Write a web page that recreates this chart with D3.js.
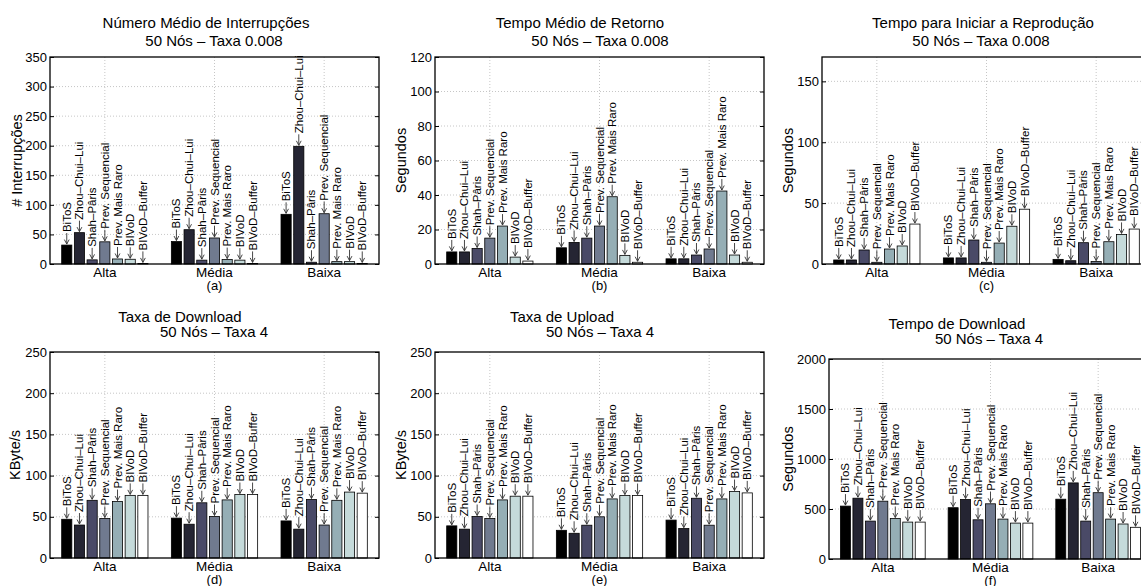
<!DOCTYPE html>
<html><head><meta charset="utf-8">
<script src="https://cdn.jsdelivr.net/npm/d3@7"></script>
<style>
html,body{margin:0;padding:0;background:#fff;}
svg{display:block;font-family:"Liberation Sans",Arial,Helvetica,sans-serif;}
</style></head>
<body>
<svg id="chart" width="1141" height="586"></svg>
<script>
// ---------- data ----------
const categories = ["Alta", "Média", "Baixa"];
const series = ["BiToS", "Zhou–Chui–Lui", "Shah–Pâris", "Prev. Sequencial", "Prev. Mais Raro", "BIVoD", "BIVoD–Buffer"];
const seriesColors = ["#000000", "#252533", "#4a4a67", "#707a8f", "#95aeb5", "#c5dada", "#ffffff"];

// values per category (Alta, Média, Baixa), series order as above
const interrupcoes = [
  [32, 53, 7, 37.5, 8.5, 8, 1],
  [38, 58, 6.5, 44, 7.5, 6.5, 1],
  [84, 199, 3, 85, 4, 4, 1]
];
const tempoRetorno = [
  [7, 7, 9, 15, 22, 4, 1.7],
  [9.4, 12.5, 15, 22, 39, 5, 1],
  [3, 3, 5.2, 8.7, 42.3, 5.2, 1]
];
const tempoInicio = [
  [3.3, 3.3, 11.5, 1.4, 12.3, 14.8, 32.8],
  [5, 5, 19.7, 1.4, 17.2, 31, 45],
  [3.8, 2.7, 17.5, 2, 18.3, 24.3, 28.7]
];
const taxaDownload = [
  [47, 40, 70, 48, 68.5, 76, 76],
  [48.4, 41, 67, 50.4, 70.5, 77, 77],
  [45, 35, 71, 40, 70, 80, 78.7]
];
const taxaUpload = [
  [39, 35, 50.4, 48, 70.5, 75, 75],
  [33.6, 30, 39.8, 50, 71.7, 75.8, 75.8],
  [46, 35.7, 72.5, 39.8, 71.7, 80.7, 79]
];
const tempoDownload = [
  [529, 608, 379, 578, 405, 369, 369],
  [513, 595, 392, 552, 399, 359, 359],
  [598, 761, 379, 663, 399, 350, 317]
];

const ticksA = [0, 50, 100, 150, 200, 250, 300, 350];
const ticksB = [0, 20, 40, 60, 80, 100, 120];
const ticksC = [0, 50, 100, 150];
const ticksD = [0, 50, 100, 150, 200, 250];
const ticksE = [0, 50, 100, 150, 200, 250];
const ticksF = [0, 500, 1000, 1500, 2000];

const titlesA = ["Número Médio de Interrupções", "50 Nós – Taxa 0.008"];
const titlesB = ["Tempo Médio de Retorno", "50 Nós – Taxa 0.008"];
const titlesC = ["Tempo para Iniciar a Reprodução", "50 Nós – Taxa 0.008"];
const titlesD = ["Taxa de Download", "50 Nós – Taxa 4"];
const titlesE = ["Taxa de Upload", "50 Nós – Taxa 4"];
const titlesF = ["Tempo de Download", "50 Nós – Taxa 4"];

// ---------- layout ----------
const panels = [
  {values: interrupcoes, ticks: ticksA, max: 350, ylabel: "# Interrupções", titles: titlesA, tag: "(a)",
   left: 50, right: 379, top: 57, bottom: 264, ylx: 17, t1: [206, 28], t2: [214, 46]},
  {values: tempoRetorno, ticks: ticksB, max: 120, ylabel: "Segundos", titles: titlesB, tag: "(b)",
   left: 435, right: 764, top: 57, bottom: 264, ylx: 401, t1: [580, 28], t2: [600, 46]},
  {values: tempoInicio, ticks: ticksC, max: 170, ylabel: "Segundos", titles: titlesC, tag: "(c)",
   left: 822, right: 1151, top: 57, bottom: 264, ylx: 788, t1: [983, 28], t2: [981, 46]},
  {values: taxaDownload, ticks: ticksD, max: 250, ylabel: "KByte/s", titles: titlesD, tag: "(d)",
   left: 50, right: 379, top: 352, bottom: 558, ylx: 15, t1: [180, 322], t2: [214, 337]},
  {values: taxaUpload, ticks: ticksE, max: 250, ylabel: "KByte/s", titles: titlesE, tag: "(e)",
   left: 435, right: 764, top: 352, bottom: 558, ylx: 401, t1: [562, 322], t2: [600, 337]},
  {values: tempoDownload, ticks: ticksF, max: 2000, ylabel: "Segundos", titles: titlesF, tag: "(f)",
   left: 829, right: 1152, top: 359, bottom: 559, ylx: 788, t1: [957, 329], t2: [989, 344]}
];

const svg = d3.select("#chart");

panels.forEach(p => {
  const g = svg.append("g");
  const y = d3.scaleLinear().domain([0, p.max]).range([p.bottom, p.top]);
  const x0 = d3.scaleBand().domain(categories).range([p.left, p.right]).padding(0);
  const groupW = x0.bandwidth() * 0.81;
  const x1 = d3.scaleBand().domain(series).range([-groupW / 2, groupW / 2]).paddingInner(0.2).paddingOuter(0.1);
  const cx = c => x0(c) + x0.bandwidth() / 2;

  // grid
  g.append("g").selectAll("line").data(p.ticks.filter(t => t > 0 && t < p.max)).join("line")
    .attr("x1", p.left).attr("x2", p.right).attr("y1", d => y(d)).attr("y2", d => y(d))
    .attr("stroke", "#b8b8b8").attr("stroke-width", 0.8).attr("stroke-dasharray", "1,2");
  g.append("g").selectAll("line").data(categories).join("line")
    .attr("x1", d => cx(d)).attr("x2", d => cx(d)).attr("y1", p.top).attr("y2", p.bottom)
    .attr("stroke", "#b8b8b8").attr("stroke-width", 0.8).attr("stroke-dasharray", "1,2");

  // bars
  const groups = g.append("g").selectAll("g").data(categories).join("g")
    .attr("transform", d => `translate(${cx(d)},0)`);
  const items = (c, i) => p.values[i].map((v, j) => ({s: series[j], v, j}));
  groups.selectAll("rect").data(items).join("rect")
    .attr("x", d => x1(d.s)).attr("width", x1.bandwidth())
    .attr("y", d => y(d.v)).attr("height", d => y(0) - y(d.v))
    .attr("fill", d => seriesColors[d.j]).attr("stroke", "#000").attr("stroke-width", 0.8);

  // arrows
  const bx = d => x1(d.s) + x1.bandwidth() / 2;
  groups.selectAll("path").data(items).join("path")
    .attr("d", d => {
      const xx = bx(d), yy = y(d.v) - 1;
      return `M${xx},${yy - 11}L${xx},${yy}M${xx - 2.4},${yy - 4.5}L${xx},${yy}L${xx + 2.4},${yy - 4.5}`;
    })
    .attr("fill", "none").attr("stroke", "#333").attr("stroke-width", 0.9);

  // bar labels
  groups.selectAll("text").data(items).join("text")
    .attr("transform", d => `translate(${bx(d)},${y(d.v) - 13}) rotate(-90)`)
    .attr("text-anchor", "start").attr("dominant-baseline", "central")
    .attr("font-size", 11.5).attr("fill", "#000")
    .text(d => d.s);

  // axes
  const yAxis = d3.axisLeft(y).tickValues(p.ticks).tickSize(-4).tickPadding(3).tickFormat(d3.format("d"));
  const ya = g.append("g").attr("transform", `translate(${p.left},0)`).call(yAxis);
  ya.select(".domain").remove();
  ya.selectAll("text").attr("font-size", 13).attr("font-family", "Liberation Sans, Arial, sans-serif").attr("fill", "#000");
  ya.selectAll("line").attr("stroke", "#000");
  const yAxisR = d3.axisRight(y).tickValues(p.ticks).tickSize(-4).tickFormat("");
  const yr = g.append("g").attr("transform", `translate(${p.right},0)`).call(yAxisR);
  yr.select(".domain").remove();

  const xAxis = d3.axisBottom(x0).tickSize(0).tickPadding(3);
  const xa = g.append("g").attr("transform", `translate(0,${p.bottom})`).call(xAxis);
  xa.select(".domain").remove();
  xa.selectAll("text").attr("font-size", 13.5).attr("font-family", "Liberation Sans, Arial, sans-serif").attr("fill", "#000");

  // box
  g.append("rect").attr("x", p.left).attr("y", p.top).attr("width", p.right - p.left).attr("height", p.bottom - p.top)
    .attr("fill", "none").attr("stroke", "#000").attr("stroke-width", 1.3);

  // tag
  g.append("text").attr("x", (p.left + p.right) / 2).attr("y", p.bottom + 26).attr("text-anchor", "middle")
    .attr("font-size", 13).text(p.tag);

  // y label
  g.append("text").attr("transform", `translate(${p.ylx},${(p.top + p.bottom) / 2}) rotate(-90)`)
    .attr("text-anchor", "middle").attr("dominant-baseline", "central").attr("font-size", 14.5).text(p.ylabel);

  // titles
  g.append("text").attr("x", p.t1[0]).attr("y", p.t1[1]).attr("text-anchor", "middle").attr("font-size", 15).text(p.titles[0]);
  g.append("text").attr("x", p.t2[0]).attr("y", p.t2[1]).attr("text-anchor", "middle").attr("font-size", 15).text(p.titles[1]);
});
</script>
</body></html>
